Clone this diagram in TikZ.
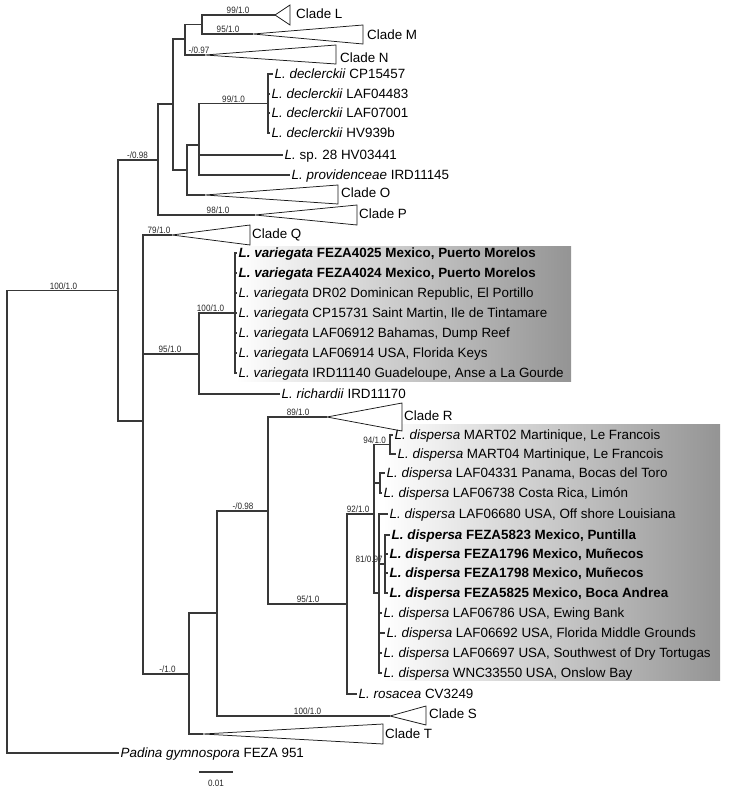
\documentclass[tikz,border=0pt]{standalone}
\usepackage{fontspec}
\setmainfont{Liberation Sans}
\newfontfamily\supfam[FakeStretch=0.88]{Liberation Sans}
\newcommand{\leaffont}{\fontsize{13.4}{15}\selectfont}
\newcommand{\supfont}{\supfam\fontsize{9.2}{10}\selectfont}
\begin{document}
\begin{tikzpicture}[x=1pt,y=-1pt,
  br/.style={draw=black!78, line width=1.15pt},
  tri/.style={draw=black!90, line width=0.75pt, fill=white, line join=miter},
  leaf/.style={anchor=west, inner xsep=1.5pt, inner ysep=0pt, text height=9.6pt, text depth=0pt, font=\leaffont},
  clab/.style={anchor=west, inner sep=0pt, text height=9.6pt, text depth=0pt, font=\leaffont},
  sup/.style={anchor=south, inner sep=0pt, text depth=0pt, yshift=1pt, font=\supfont, text=black!85},
  box/.style={left color=white, right color=black!42}]
\useasboundingbox (0,0) rectangle (729,794);
% highlight boxes
\shade[box] (236,246) rectangle (571,381);
\shade[box] (383,424) rectangle (720,680);
% internal nodes
\coordinate (R0) at (7,522);
\coordinate (A) at (118,290.5);
\coordinate (B) at (158,160);
\coordinate (C) at (173,104);
\coordinate (D) at (185,39);
\coordinate (E) at (202,24.5);
\coordinate (F) at (187,170);
\coordinate (G) at (199,145);
\coordinate (H) at (268,103.5);
\coordinate (I) at (143,421);
\coordinate (J) at (199,354);
\coordinate (K) at (235,313);
\coordinate (M1) at (189,674);
\coordinate (M2) at (217,613);
\coordinate (M3) at (268,511);
\coordinate (M4) at (347,604);
\coordinate (M5) at (374,514);
\coordinate (M6) at (390,444.5);
\coordinate (M7) at (380,483);
\coordinate (M8) at (379,593);
\coordinate (M9) at (385,564);
% clade apexes
\coordinate (aL) at (275,15);
\coordinate (aM) at (253,34);
\coordinate (aN) at (205,55);
\coordinate (aO) at (205,195);
\coordinate (aP) at (255,215);
\coordinate (aQ) at (172,235);
\coordinate (aR) at (327,417);
\coordinate (aS) at (390,716);
\coordinate (aT) at (203,734);
% triangles
\draw[tri] (aL) -- (290,5) -- (290,25) -- cycle;
\draw[tri] (aM) -- (363,25) -- (363,44) -- cycle;
\draw[tri] (aN) -- (336,45) -- (336,64) -- cycle;
\draw[tri] (aO) -- (338,185) -- (338,204) -- cycle;
\draw[tri] (aP) -- (357,205) -- (357,225) -- cycle;
\draw[tri] (aQ) -- (250,225) -- (250,245) -- cycle;
\draw[tri] (aR) -- (402,403) -- (402,431) -- cycle;
\draw[tri] (aS) -- (426,706) -- (426,725) -- cycle;
\draw[tri] (aT) -- (383,724) -- (383,744) -- cycle;
% clade labels
\node[clab] (cL) at (296,14) {Clade L};
\node[clab] (cM) at (367,35) {Clade M};
\node[clab] (cN) at (340,58) {Clade N};
\node[clab] (cO) at (341,193) {Clade O};
\node[clab] (cP) at (359,214) {Clade P};
\node[clab] (cQ) at (252,234) {Clade Q};
\node[clab] (cR) at (404,416) {Clade R};
\node[clab] (cS) at (429,714) {Clade S};
\node[clab] (cT) at (385,734) {Clade T};
% leaves
\node[leaf] (dc1) at (273,74) {\textit{L. declerckii} CP15457};
\node[leaf] (dc2) at (270,94) {\textit{L. declerckii} LAF04483};
\node[leaf] (dc3) at (270,113) {\textit{L. declerckii} LAF07001};
\node[leaf] (dc4) at (270,133) {\textit{L. declerckii} HV939b};
\node[leaf] (sp28) at (283,155) {\textit{L.} sp. 28 HV03441};
\node[leaf] (prov) at (290,175) {\textit{L. providenceae} IRD11145};
\node[leaf] (v1) at (237,253) {\textbf{\textit{L. variegata} FEZA4025 Mexico, Puerto Morelos}};
\node[leaf] (v2) at (237,273) {\textbf{\textit{L. variegata} FEZA4024 Mexico, Puerto Morelos}};
\node[leaf] (v3) at (237,293) {\textit{L. variegata} DR02 Dominican Republic, El Portillo};
\node[leaf] (v4) at (237,313) {\textit{L. variegata} CP15731 Saint Martin, Ile de Tintamare};
\node[leaf] (v5) at (237,333) {\textit{L. variegata} LAF06912 Bahamas, Dump Reef};
\node[leaf] (v6) at (237,353) {\textit{L. variegata} LAF06914 USA, Florida Keys};
\node[leaf] (v7) at (237,373) {\textit{L. variegata} IRD11140 Guadeloupe, Anse a La Gourde};
\node[leaf] (rich) at (280,394) {\textit{L. richardii} IRD11170};
\node[leaf] (d1) at (393,435) {\textit{L. dispersa} MART02 Martinique, Le Francois};
\node[leaf] (d2) at (396,454) {\textit{L. dispersa} MART04 Martinique, Le Francois};
\node[leaf] (d3) at (385,473) {\textit{L. dispersa} LAF04331 Panama, Bocas del Toro};
\node[leaf] (d4) at (382,493) {\textit{L. dispersa} LAF06738 Costa Rica, Limón};
\node[leaf] (d5) at (388,514) {\textit{L. dispersa} LAF06680 USA, Off shore Louisiana};
\node[leaf] (d6) at (390,535) {\textbf{\textit{L. dispersa} FEZA5823 Mexico, Puntilla}};
\node[leaf] (d7) at (388,554) {\textbf{\textit{L. dispersa} FEZA1796 Mexico, Muñecos}};
\node[leaf] (d8) at (388,573) {\textbf{\textit{L. dispersa} FEZA1798 Mexico, Muñecos}};
\node[leaf] (d9) at (388,593) {\textbf{\textit{L. dispersa} FEZA5825 Mexico, Boca Andrea}};
\node[leaf] (d10) at (382,613) {\textit{L. dispersa} LAF06786 USA, Ewing Bank};
\node[leaf] (d11) at (385,633) {\textit{L. dispersa} LAF06692 USA, Florida Middle Grounds};
\node[leaf] (d12) at (382,653) {\textit{L. dispersa} LAF06697 USA, Southwest of Dry Tortugas};
\node[leaf] (d13) at (382,673) {\textit{L. dispersa} WNC33550 USA, Onslow Bay};
\node[leaf] (ros) at (357,694) {\textit{L. rosacea} CV3249};
\node[leaf] (pad) at (119,753) {\textit{Padina gymnospora} FEZA 951};
% branches
\draw[br] (R0) |- (A);
\draw[br] (R0) |- (pad.west);
\draw[br] (A) |- (B);
\draw[br] (A) |- (I);
\draw[br] (B) |- (C);
\draw[br] (B) |- (aP);
\draw[br] (C) |- (D);
\draw[br] (C) |- (F);
\draw[br] (D) |- (E);
\draw[br] (D) |- (aN);
\draw[br] (E) |- (aL);
\draw[br] (E) |- (aM);
\draw[br] (F) |- (G);
\draw[br] (F) |- (aO);
\draw[br] (G) |- (H);
\draw[br] (G) |- (sp28.west);
\draw[br] (G) |- (prov.west);
\foreach \l in {dc1,dc2,dc3,dc4} \draw[br] (H) |- (\l.west);
\draw[br] (I) |- (aQ);
\draw[br] (I) |- (J);
\draw[br] (I) |- (M1);
\draw[br] (J) |- (K);
\draw[br] (J) |- (rich.west);
\foreach \l in {v1,v2,v3,v4,v5,v6,v7} \draw[br] (K) |- (\l.west);
\draw[br] (M1) |- (M2);
\draw[br] (M1) |- (aT);
\draw[br] (M2) |- (M3);
\draw[br] (M2) |- (aS);
\draw[br] (M3) |- (aR);
\draw[br] (M3) |- (M4);
\draw[br] (M4) |- (M5);
\draw[br] (M4) |- (ros.west);
\draw[br] (M5) |- (M6);
\draw[br] (M5) |- (M7);
\draw[br] (M5) |- (M8);
\draw[br] (M6) |- (d1.west);
\draw[br] (M6) |- (d2.west);
\draw[br] (M7) |- (d3.west);
\draw[br] (M7) |- (d4.west);
\draw[br] (M8) |- (M9);
\foreach \l in {d5,d10,d11,d12,d13} \draw[br] (M8) |- (\l.west);
\foreach \l in {d6,d7,d8,d9} \draw[br] (M9) |- (\l.west);
% support values
\node[sup] (s1) at (238,15) {99/1.0};
\node[sup] (s2) at (228,34) {95/1.0};
\node[sup] (s3) at (199,55) {-/0.97};
\node[sup] (s4) at (233.5,103.5) {99/1.0};
\node[sup] (s5) at (137.5,160) {-/0.98};
\node[sup] (s6) at (218,215) {98/1.0};
\node[sup] (s7) at (63.5,290.5) {100/1.0};
\node[sup] (s8) at (159,235) {79/1.0};
\node[sup] (s9) at (210.5,313) {100/1.0};
\node[sup] (s10) at (170,354) {95/1.0};
\node[sup] (s11) at (298,417) {89/1.0};
\node[sup] (s12) at (243,511) {-/0.98};
\node[sup] (s13) at (308,604) {95/1.0};
\node[sup] (s14) at (358,514) {92/1.0};
\node[sup] (s15) at (374.5,444.5) {94/1.0};
\node[sup] (s16) at (369,564) {81/0.97};
\node[sup] (s17) at (167.5,674) {-/1.0};
\node[sup] (s18) at (307.5,716) {100/1.0};
% scale bar
\coordinate (sb1) at (199,772);
\coordinate (sb2) at (233,772);
\draw[br] (sb1) -- (sb2);
\node[font=\supfont, inner sep=0pt, text=black!85] (sbl) at (216,783.5) {0.01};
\end{tikzpicture}
\end{document}
